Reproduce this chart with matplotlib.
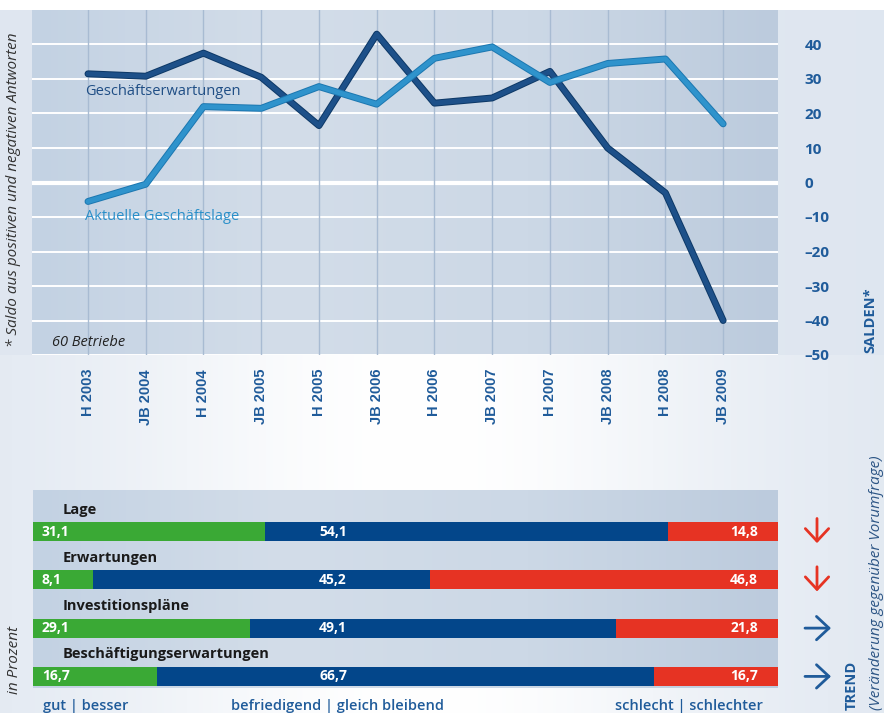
import numpy as np
import matplotlib
matplotlib.use("Agg")
import matplotlib.pyplot as plt
import matplotlib.patheffects as pe
from matplotlib.patches import FancyArrowPatch
from matplotlib.colors import LinearSegmentedColormap
from matplotlib.transforms import blended_transform_factory

plt.rcParams['font.family'] = ['Open Sans', 'DejaVu Sans']

# line chart data (Salden)
periods = ['H 2003', 'JB 2004', 'H 2004', 'JB 2005', 'H 2005', 'JB 2006',
           'H 2006', 'JB 2007', 'H 2007', 'JB 2008', 'H 2008', 'JB 2009']
erwartungen = [31.5, 30.8, 37.5, 30.5, 16.5, 43.0, 23.0, 24.5, 32.2, 10.0, -3.0, -40.0]
lage = [-5.5, -0.5, 22.0, 21.5, 27.8, 22.7, 36.0, 39.3, 29.0, 34.5, 35.8, 17.0]
y_ticks = [-50, -40, -30, -20, -10, 0, 10, 20, 30, 40]

# bar chart data (in Prozent)
categories = ['Lage', 'Erwartungen', 'Investitionspläne', 'Beschäftigungserwartungen']
gut = [31.1, 8.1, 29.1, 16.7]
befriedigend = [54.1, 45.2, 49.1, 66.7]
schlecht = [14.8, 46.8, 21.8, 16.7]
trend = ['down', 'down', 'right', 'right']

W, H = 884, 713
text_blue = '#1f5b9a'
dark_line = '#1d5089'
light_line = '#2f93cc'
green = '#3aa935'
navy = '#03468a'
red = '#e63323'

fig = plt.figure(figsize=(W / 100, H / 100), dpi=100)

# figure background: light blue-grey with a white glow in the middle
bg = fig.add_axes([0, 0, 1, 1], zorder=-5)
xx = np.linspace(0, W, W)
yy = np.linspace(0, H, H)
X, Y = np.meshgrid(xx, yy)
base = np.array([0.87, 0.90, 0.94])
w = np.exp(-((X - 420) / 330) ** 2)
w = np.where(Y > 355, w, w * 0.2)
w = np.where(Y < 10, 1.0, w)
img = base[None, None, :] * (1 - w[..., None]) + w[..., None]
bg.imshow(img, extent=[0, W, H, 0], aspect='auto')
bg.axis('off')

panel_cmap = LinearSegmentedColormap.from_list(
    'panel', ['#c3d2e3', '#d3dde9', '#ccd8e6', '#bccbdd'])
grad = np.linspace(0, 1, 200)[None, :]

# ---- top line chart ----
ax = fig.add_axes([32 / W, 1 - 355 / H, 746 / W, 345 / H])
x = np.arange(len(periods))
ax.set_xlim(-0.97, 11.95)
ax.set_ylim(-50, 50)
ax.imshow(grad, extent=[-0.97, 11.95, -50, 50], aspect='auto', cmap=panel_cmap, zorder=0)

for v in y_ticks:
    ax.axhline(v, color='white', lw=3.0 if v == 0 else 1.4, zorder=1)
for i in x:
    ax.axvline(i, color='#a8bbd2', lw=1.0, zorder=1)

ax.plot(x, erwartungen, color=dark_line, lw=3.6, solid_capstyle='round',
        solid_joinstyle='round', zorder=3,
        path_effects=[pe.Stroke(linewidth=5.0, foreground='#0d3866'), pe.Normal()])
ax.plot(x, lage, color=light_line, lw=3.6, solid_capstyle='round',
        solid_joinstyle='round', zorder=4,
        path_effects=[pe.Stroke(linewidth=5.0, foreground='#1c77b0'), pe.Normal()])

ax.text(-0.05, 26.5, 'Geschäftserwartungen', color='#1f4e85', fontsize=10.5,
        fontweight='medium', ha='left', va='center', zorder=5)
ax.text(-0.05, -9.8, 'Aktuelle Geschäftslage', color='#2a8fc9', fontsize=10.5,
        fontweight='medium', ha='left', va='center', zorder=5)
ax.text(-0.62, -46.5, '60 Betriebe', fontstyle='italic', fontsize=10.5,
        color='#222222', ha='left', va='center', zorder=5)

ax.set_xticks(x)
ax.set_xticklabels(periods, rotation=90, fontsize=10.5, fontweight='bold',
                   color=text_blue, family=['Liberation Sans', 'DejaVu Sans'])
ax.tick_params(axis='x', length=0, pad=10)
ax.yaxis.tick_right()
ax.set_yticks(y_ticks)
ax.set_yticklabels([str(v).replace('-', '–') for v in y_ticks], fontsize=11,
                   fontweight='bold', color=text_blue)
ax.tick_params(axis='y', length=0, pad=19)
for s in ax.spines.values():
    s.set_visible(False)

fig.text(870 / W, 1 - 353 / H, 'SALDEN*', rotation=90, ha='center', va='bottom',
         fontsize=10.5, fontweight='bold', color=text_blue)
fig.text(14 / W, 1 - 190 / H, '* Saldo aus positiven und negativen Antworten',
         rotation=90, ha='center', va='center', fontsize=11,
         fontstyle='italic', color='#333333')

# ---- bottom bar chart ----
bx = fig.add_axes([33 / W, 1 - 688 / H, 745 / W, 198 / H])
bx.set_xlim(0, 100)
bx.set_ylim(3.24, -0.86)
bx.imshow(grad, extent=[0, 100, 3.24, -0.86], aspect='auto', cmap=panel_cmap, zorder=0)
rows = np.arange(len(categories))
bh = 0.39
left_red = [g + b for g, b in zip(gut, befriedigend)]
bx.barh(rows, gut, height=bh, color=green, zorder=2)
bx.barh(rows, befriedigend, left=gut, height=bh, color=navy, zorder=2)
bx.barh(rows, schlecht, left=left_red, height=bh, color=red, zorder=2)

for i, cat in enumerate(categories):
    bx.text(4.0, i - 0.455, cat, fontsize=10.5, fontweight='bold',
            color='#1a1a1a', ha='left', va='center', zorder=3)
    bx.text(1.2, i, f'{gut[i]:.1f}'.replace('.', ','), fontsize=10,
            fontweight='bold', color='white', ha='left', va='center', zorder=3)
    bx.text(38.4, i, f'{befriedigend[i]:.1f}'.replace('.', ','), fontsize=10,
            fontweight='bold', color='white', ha='left', va='center', zorder=3)
    bx.text(97.3, i, f'{schlecht[i]:.1f}'.replace('.', ','), fontsize=10,
            fontweight='bold', color='white', ha='right', va='center', zorder=3)
bx.axis('off')

# trend arrows
tr = blended_transform_factory(fig.transFigure, bx.transData)
arrow_style = '->,head_length=0.45,head_width=0.42'
for i, t in enumerate(trend):
    if t == 'down':
        start, end, col = (817 / W, i - 0.27), (817 / W, i + 0.24), red
    else:
        start, end, col = (805 / W, i), (831 / W, i), text_blue
    fig.add_artist(FancyArrowPatch(start, end, transform=tr, arrowstyle=arrow_style,
                                   mutation_scale=20, lw=2.0, color=col,
                                   shrinkA=0, shrinkB=0))

fig.text(43 / W, 1 - 706 / H, 'gut | besser', fontsize=10.5, fontweight='semibold',
         color=text_blue, ha='left', va='center')
fig.text(231 / W, 1 - 706 / H, 'befriedigend | gleich bleibend', fontsize=10.5,
         fontweight='semibold', color=text_blue, ha='left', va='center')
fig.text(615 / W, 1 - 706 / H, 'schlecht | schlechter', fontsize=10.5,
         fontweight='semibold', color=text_blue, ha='left', va='center')
fig.text(15 / W, 1 - 660 / H, 'in Prozent', rotation=90, fontsize=11,
         fontstyle='italic', color='#333333', ha='center', va='center')
fig.text(852 / W, 1 - 710 / H, 'TREND', rotation=90, fontsize=10.5,
         fontweight='bold', color=text_blue, ha='center', va='bottom')
fig.text(876 / W, 1 - 710 / H, '(Veränderung gegenüber Vorumfrage)', rotation=90,
         fontsize=11, fontstyle='italic', color='#2b5484', ha='center', va='bottom')

fig.savefig('out.png', dpi=100)
